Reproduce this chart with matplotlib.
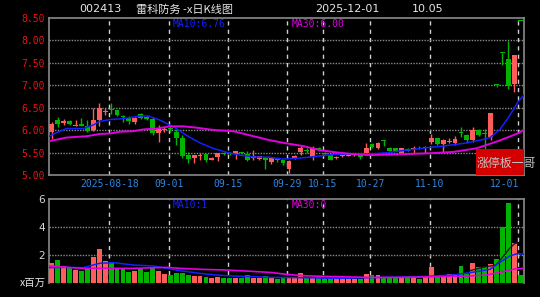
import matplotlib
matplotlib.use('Agg')
import matplotlib.pyplot as plt
from matplotlib.transforms import blended_transform_factory
from matplotlib.patches import Rectangle

# == DATA ==
# daily candles 2025-08-04 .. 2025-12-01, index 0..79
opens  = [5.97, 6.23, 6.17, 6.21, 6.10, 6.14, 6.10, 6.00, 6.24, 6.41,
          6.47, 6.45, 6.31, 6.28, 6.19, 6.37, 6.30, 6.26, 5.95, 6.01,
          6.05, 5.97, 5.84, 5.45, 5.38, 5.42, 5.47, 5.35, 5.41, 5.49,
          5.49, 5.47, 5.51, 5.48, 5.39, 5.37, 5.40, 5.30, 5.37, 5.34,
          5.14, 5.38, 5.52, 5.57, 5.41, 5.60, 5.50, 5.45, 5.38, 5.42,
          5.44, 5.45, 5.47, 5.49, 5.70, 5.60, 5.77, 5.61, 5.60, 5.49,
          5.58, 5.59, 5.63, 5.60, 5.75, 5.82, 5.69, 5.75, 5.72, 5.95,
          5.89, 5.78, 6.01, 5.95, 5.86, 7.03, 7.73, 7.59, 7.04, 8.44]
highs  = [6.18, 6.29, 6.26, 6.23, 6.24, 6.27, 6.24, 6.50, 6.61, 6.50,
          6.61, 6.46, 6.35, 6.31, 6.29, 6.39, 6.32, 6.30, 6.12, 6.08,
          6.09, 6.02, 5.89, 5.52, 5.46, 5.49, 5.48, 5.41, 5.50, 5.51,
          5.52, 5.54, 5.52, 5.54, 5.56, 5.44, 5.41, 5.39, 5.38, 5.36,
          5.33, 5.45, 5.65, 5.60, 5.65, 5.62, 5.52, 5.46, 5.42, 5.47,
          5.48, 5.49, 5.48, 5.71, 5.72, 5.74, 5.79, 5.62, 5.61, 5.61,
          5.60, 5.65, 5.66, 5.65, 5.93, 5.84, 5.80, 5.82, 5.87, 6.08,
          5.93, 6.08, 6.04, 6.04, 6.39, 7.03, 7.73, 7.98, 7.68, 8.44]
lows   = [5.80, 6.08, 6.11, 6.12, 6.09, 6.09, 5.97, 5.98, 6.10, 6.34,
          6.37, 6.33, 6.19, 6.15, 6.15, 6.25, 6.24, 5.90, 5.75, 5.97,
          5.97, 5.67, 5.38, 5.27, 5.28, 5.35, 5.30, 5.33, 5.32, 5.45,
          5.46, 5.36, 5.47, 5.32, 5.33, 5.34, 5.13, 5.25, 5.30, 5.22,
          5.06, 5.36, 5.45, 5.50, 5.34, 5.55, 5.46, 5.33, 5.36, 5.40,
          5.42, 5.43, 5.36, 5.48, 5.60, 5.58, 5.65, 5.53, 5.53, 5.48,
          5.54, 5.49, 5.58, 5.49, 5.70, 5.68, 5.52, 5.71, 5.67, 5.86,
          5.71, 5.75, 5.88, 5.56, 5.78, 6.96, 7.45, 6.93, 6.85, 8.44]
closes = [6.15, 6.14, 6.20, 6.14, 6.12, 6.10, 5.99, 6.24, 6.50, 6.43,
          6.45, 6.34, 6.30, 6.20, 6.28, 6.27, 6.25, 5.95, 6.06, 6.03,
          6.04, 5.84, 5.44, 5.36, 5.45, 5.46, 5.34, 5.39, 5.49, 5.48,
          5.48, 5.54, 5.49, 5.35, 5.43, 5.42, 5.34, 5.38, 5.33, 5.27,
          5.32, 5.43, 5.60, 5.53, 5.60, 5.56, 5.48, 5.34, 5.41, 5.46,
          5.47, 5.48, 5.40, 5.60, 5.64, 5.72, 5.76, 5.54, 5.54, 5.60,
          5.55, 5.61, 5.62, 5.62, 5.82, 5.69, 5.79, 5.77, 5.81, 5.94,
          5.78, 6.01, 5.89, 5.92, 6.39, 7.02, 7.72, 6.98, 7.67, 8.43]
volume = [1.39, 1.63, 1.20, 1.08, 0.91, 0.84, 0.96, 1.87, 2.39, 1.55,
          1.46, 1.03, 1.03, 0.79, 0.84, 0.96, 0.79, 1.10, 0.86, 0.60,
          0.55, 0.72, 0.67, 0.55, 0.48, 0.48, 0.43, 0.36, 0.43, 0.36,
          0.36, 0.36, 0.36, 0.55, 0.36, 0.36, 0.48, 0.36, 0.26, 0.36,
          0.36, 0.36, 0.67, 0.36, 0.36, 0.43, 0.36, 0.36, 0.36, 0.26,
          0.26, 0.26, 0.26, 0.60, 0.55, 0.55, 0.36, 0.43, 0.36, 0.36,
          0.36, 0.36, 0.26, 0.43, 1.10, 0.50, 0.50, 0.62, 0.62, 1.20,
          0.62, 1.39, 1.10, 1.10, 1.32, 1.68, 4.02, 5.74, 2.85, 0.55]

# moving averages (x = candle index)
ma10_x = [-0.4, 0.5, 2.5, 5.3, 7, 8.1, 9.8, 12, 14.9, 16.3, 18.2, 19.4, 21, 22.7, 25, 27.2, 29.5,
          31.7, 34, 36.8, 39, 42.4, 48, 53.6, 56.4, 59.2, 63.7, 66, 69.4, 72.2, 73.9, 75.5,
          76.7, 77.8, 78.6, 79.6]
ma10_y = [5.87, 5.93, 6.04, 6.04, 6.12, 6.20, 6.24, 6.26, 6.32, 6.32, 6.23, 6.15, 6.04, 5.89,
          5.72, 5.60, 5.51, 5.45, 5.41, 5.40, 5.36, 5.39, 5.47, 5.47, 5.50, 5.55, 5.62, 5.65,
          5.71, 5.78, 5.84, 6.01, 6.23, 6.45, 6.63, 6.78]
ma30_x = [-0.4, 2.5, 5.9, 8.1, 9.8, 11.5, 13.7, 15.4, 17.7, 19.9, 22.2, 24.4, 27.2, 30.6, 33.4,
          36.8, 39.6, 42.4, 45.2, 48, 50.8, 53.6, 59.2, 63.7, 67.7, 71.6, 75, 77.2, 78.9, 79.6]
ma30_y = [5.76, 5.84, 5.87, 5.92, 5.93, 5.97, 5.98, 6.02, 6.04, 6.09, 6.09, 6.06, 6.01, 5.98,
          5.89, 5.78, 5.71, 5.65, 5.56, 5.51, 5.47, 5.45, 5.47, 5.49, 5.52, 5.60, 5.75, 5.86,
          5.95, 6.01]
vma5_x = [70.5, 72.7, 74.9, 76.1, 77.2, 78.1, 78.6]
vma5_y = [0.86, 1.10, 1.27, 1.87, 2.46, 2.82, 2.85]
vma10_x = [-0.4, 2.5, 5.3, 7, 8.1, 10.4, 13.7, 17.1, 19.4, 21.6, 25, 27.8, 30.6, 34, 36.8, 42.4,
           48, 53.6, 62, 67.7, 71.6, 73.9, 75.5, 77.2, 78.6, 79.6]
vma10_y = [1.08, 1.10, 1.08, 1.27, 1.39, 1.44, 1.27, 1.20, 1.03, 0.86, 0.67, 0.55, 0.48, 0.43,
           0.38, 0.36, 0.31, 0.36, 0.43, 0.55, 0.79, 0.96, 1.44, 1.91, 2.10, 2.03]
vma30_x = [-0.4, 2.5, 5.3, 8.1, 13.7, 19.4, 21.6, 25, 29.5, 31.7, 36.8, 39.6, 42.4, 48, 53.6,
           59.2, 64.9, 70.5, 73.3, 76.1, 78.3, 79.6]
vma30_y = [1.20, 1.10, 1.03, 1.03, 1.03, 1.10, 1.03, 0.96, 0.91, 0.86, 0.74, 0.60, 0.50, 0.43,
           0.38, 0.38, 0.43, 0.48, 0.55, 0.79, 1.00, 1.03]

date_idx = [10, 20, 30, 40, 46, 54, 64, 79]
date_lbl = ['2025-08-18', '09-01', '09-15', '09-29', '10-15', '10-27', '11-10', '12-01']
price_ticks = [5.0, 5.5, 6.0, 6.5, 7.0, 7.5, 8.0, 8.5]
vol_ticks = [2, 4, 6]

RED = '#ff5c5c'
GREEN = '#00b400'
GRID = '#8a8a8a'
CJK = ['Noto Sans CJK SC', 'DejaVu Sans']
W, H = 540, 297


def fx(px):
    return px / W


def fy(py):
    return 1 - py / H


fig = plt.figure(figsize=(5.4, 2.97), dpi=100, facecolor='black')
ax = fig.add_axes([fx(49.3), fy(175.3), (524.3 - 49.3) / W, (175.3 - 18) / H], facecolor='black')
axv = fig.add_axes([fx(49.3), fy(282.7), (524.3 - 49.3) / W, (282.7 - 199) / H], facecolor='black')

n = len(closes)
xs = list(range(n))
cols = [RED if c >= o else GREEN for o, c in zip(opens, closes)]

# == CANDLES ==
ax.vlines(xs, lows, highs, colors=cols, lw=1, zorder=3)
bottoms = [min(o, c) for o, c in zip(opens, closes)]
heights = [max(abs(c - o), 0.015) for o, c in zip(opens, closes)]
ax.bar(xs, heights, bottom=bottoms, width=0.82, color=cols, lw=0, zorder=4)
ax.plot(ma10_x, ma10_y, color='#1420ff', lw=1.1, zorder=5)
ax.plot(ma30_x, ma30_y, color='#e000e0', lw=1.4, zorder=5)

# == VOLUME ==
axv.bar(xs, volume, width=0.82, color=cols, lw=0, zorder=3)
axv.plot(vma5_x, vma5_y, color='#1c1c1c', lw=1, zorder=4)
axv.plot(vma10_x, vma10_y, color='#1420ff', lw=1.1, zorder=5)
axv.plot(vma30_x, vma30_y, color='#e000e0', lw=1.2, zorder=5)

for a, lo, hi in [(ax, 5.0, 8.5), (axv, 0, 6)]:
    a.set_xlim(-0.42, 79.68)
    a.set_ylim(lo, hi)
    a.set_xticks([])
    for d in date_idx:
        a.axvline(d - 0.3, color='#d0d0d0', lw=1, ls=(0, (3, 3)), zorder=1)
    for s in a.spines.values():
        s.set_color(GRID)
        s.set_linewidth(1.2)
    a.tick_params(axis='y', length=0, pad=3)

for p in price_ticks[1:-1]:
    ax.axhline(p, color=GRID, lw=1, ls=(0, (1, 1)), zorder=1)
for v in vol_ticks[:-1]:
    axv.axhline(v, color=GRID, lw=1, ls=(0, (1, 1)), zorder=1)
axv.spines['bottom'].set_visible(False)

ax.set_yticks(price_ticks)
ax.set_yticklabels(['%.2f' % p for p in price_ticks], color='#f01010',
                   fontsize=7, family='DejaVu Sans Mono')
axv.set_yticks(vol_ticks)
axv.set_yticklabels([str(v) for v in vol_ticks], color='#d8d8d8', fontsize=7.5)

# date labels between the panels
tr = blended_transform_factory(ax.transData, fig.transFigure)
for d, lbl in zip(date_idx, date_lbl):
    ha = 'right' if d == date_idx[-1] else 'center'
    xx = d - 0.1 if ha == 'right' else d - 0.3
    ax.text(xx, fy(184), lbl, transform=tr, ha=ha, va='center', color='#2f86e0',
            fontsize=7, family='DejaVu Sans Mono')

# == TEXTS ==
fig.text(fx(79), fy(9.5), '002413', color='#e6e6e6', fontsize=8, va='center', family='DejaVu Sans')
fig.text(fx(136), fy(9.5), '雷科防务 -x日K线图', color='#e6e6e6', fontsize=8, va='center', family=CJK)
fig.text(fx(315.5), fy(9.5), '2025-12-01', color='#e6e6e6', fontsize=8, va='center', family='DejaVu Sans')
fig.text(fx(412), fy(9.5), '10.05', color='#e6e6e6', fontsize=8, va='center', family='DejaVu Sans')
fig.text(fx(172.5), fy(23.7), 'MA10:6.76', color='#1420ff', fontsize=7, va='center', family='DejaVu Sans Mono')
fig.text(fx(291.5), fy(23.7), 'MA30:6.00', color='#e000e0', fontsize=7, va='center', family='DejaVu Sans Mono')
fig.text(fx(172.5), fy(204.5), 'MA10:1', color='#1420ff', fontsize=7, va='center', family='DejaVu Sans Mono')
fig.text(fx(291.5), fy(204.5), 'MA30:0', color='#e000e0', fontsize=7, va='center', family='DejaVu Sans Mono')
fig.text(fx(45.5), fy(283), 'x百万', color='#e6e6e6', fontsize=7.5, ha='right', va='center', family=CJK)

# red watermark box
fig.add_artist(Rectangle((fx(475.7), fy(175.3)), 48.6 / W, 26 / H, transform=fig.transFigure,
                         facecolor='#d40000', edgecolor='none', zorder=10))
fig.text(fx(476.5), fy(163.5), '涨停板一哥', color='#c4c4c4', fontsize=8.6, va='center',
         family=CJK, zorder=11)

fig.savefig('out.png', dpi=100, facecolor='black')
